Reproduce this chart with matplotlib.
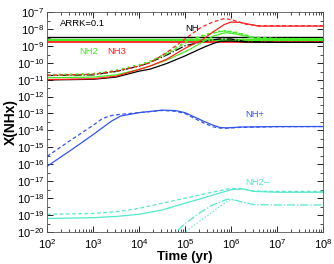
import numpy as np
import matplotlib
matplotlib.use("Agg")
import matplotlib.pyplot as plt
from matplotlib.ticker import LogLocator, NullFormatter

plt.rcParams['font.family'] = ['Liberation Sans', 'DejaVu Sans']

# log10(time in yr) and log10(abundance)
# NH (black)
nh_t = [2, 3, 3.5, 4, 4.24, 4.6, 5.0, 5.4, 5.6, 5.76, 6.0, 6.3, 7, 8]
nh_solid = [-11.02, -10.98, -10.85, -10.5, -10.38, -10.05, -9.6, -9.1, -8.88, -8.74, -8.72, -8.78, -8.8, -8.8]
nh_dash = [-10.76, -10.72, -10.52, -10.2, -9.98, -9.55, -9.0, -8.75, -8.65, -8.6, -8.6, -8.75, -8.8, -8.8]

# NH2 (green)
nh2_t = [2, 3, 3.5, 4, 4.24, 4.6, 5.0, 5.1, 5.37, 5.6, 5.83, 5.9, 6.1, 6.5, 7, 8]
nh2_solid = [-10.89, -10.85, -10.72, -10.4, -10.2, -9.85, -9.35, -9.22, -8.8, -8.45, -8.26, -8.23, -8.3, -8.55, -8.6, -8.6]
nh2_dash = [-10.75, -10.7, -10.5, -10.18, -9.96, -9.5, -8.85, -8.7, -8.45, -8.25, -8.14, -8.14, -8.22, -8.5, -8.58, -8.6]
nh2_dot = [-10.72, -10.65, -10.45, -10.13, -9.92, -9.45, -8.8, -8.65, -8.4, -8.22, -8.12, -8.13, -8.2, -8.5, -8.58, -8.6]

# NH3 (red)
nh3_t = [2, 3, 3.5, 4, 4.24, 4.6, 5.0, 5.3, 5.4, 5.6, 5.85, 6.0, 6.2, 6.3, 6.6, 7, 8]
nh3_solid = [-11.0, -10.95, -10.8, -10.4, -10.2, -9.8, -9.15, -8.75, -8.6, -8.2, -7.75, -7.6, -7.62, -7.68, -7.84, -7.84, -7.84]
nh3_dash = [-10.74, -10.68, -10.5, -10.2, -10.0, -9.4, -8.6, -8.0, -7.85, -7.6, -7.4, -7.45, -7.62, -7.72, -7.82, -7.82, -7.82]

# NH+ (blue)
nhp_t = [2, 2.5, 3, 3.2, 3.4, 3.6, 4, 4.5, 4.8, 5.0, 5.2, 5.4, 5.6, 5.75, 5.9, 6.2, 7, 8]
nhp_solid = [-16.12, -15.2, -14.25, -13.85, -13.45, -13.15, -12.95, -12.8, -12.83, -12.95, -13.2, -13.45, -13.68, -13.82, -13.85, -13.8, -13.77, -13.77]
nhp_dash = [-15.53, -14.6, -13.7, -13.3, -13.12, -13.05, -12.95, -12.82, -12.87, -13.0, -13.28, -13.55, -13.78, -13.86, -13.87, -13.82, -13.78, -13.77]

# NH2- (turquoise)
nh2m_t = [2, 3, 3.5, 4, 4.5, 5, 5.5, 6, 6.25, 6.5, 7, 8]
nh2m_solid = [-19.2, -19.15, -19.08, -18.95, -18.7, -18.3, -17.9, -17.5, -17.45, -17.6, -17.65, -17.65]
nh2m_dash = [-18.95, -18.9, -18.8, -18.6, -18.3, -18.0, -17.7, -17.42, -17.45, -17.58, -17.6, -17.6]
nh2m_dd_t = [4.6, 4.8, 5.0, 5.3, 5.6, 5.9, 6.0, 6.2, 6.5, 7, 8]
nh2m_dashdot = [-20.3, -20.0, -19.5, -18.9, -18.4, -18.08, -18.05, -18.2, -18.38, -18.4, -18.4]
nh2m_dot_t = [4.85, 5.1, 5.4, 5.7, 5.95, 6.1]
nh2m_dot = [-20.3, -19.8, -19.2, -18.6, -18.12, -18.1]

# constant reference levels
ref_black = -8.48
ref_green = [-8.6, -8.68]
ref_red = -8.79

c_black = 'black'
c_green = '#44ee22'
c_red = '#ff2020'
c_blue = '#3355ee'
c_cyan = '#55e8cc'


def p(t, v):
    return 10 ** np.array(t, dtype=float), 10 ** np.array(v, dtype=float)


fig = plt.figure(figsize=(3.34, 2.64), dpi=100)
ax = fig.add_axes([0.141, 0.121, 0.826, 0.834])
lw = 0.9

ax.axhline(10 ** ref_black, color=c_black, lw=1.0)
for g in ref_green:
    ax.axhline(10 ** g, color=c_green, lw=0.9)
ax.axhline(10 ** ref_red, color=c_red, lw=1.3)

ax.plot(*p(nh_t, nh_solid), color=c_black, lw=lw)
ax.plot(*p(nh_t, nh_dash), color=c_black, lw=lw, ls='-.')
ax.plot(*p(nh2_t, nh2_solid), color=c_green, lw=lw)
ax.plot(*p(nh2_t, nh2_dash), color=c_green, lw=lw, ls=(0, (3, 2)))
ax.plot(*p(nh2_t, nh2_dot), color=c_green, lw=1.3, ls=(0, (1.2, 2)))
ax.plot(*p(nh3_t, nh3_solid), color=c_red, lw=lw)
ax.plot(*p(nh3_t, nh3_dash), color=c_red, lw=lw, ls=(0, (3, 2)))
ax.plot(*p(nhp_t, nhp_solid), color=c_blue, lw=lw)
ax.plot(*p(nhp_t, nhp_dash), color=c_blue, lw=lw, ls=(0, (3, 2)))
ax.plot(*p(nh2m_t, nh2m_solid), color=c_cyan, lw=lw)
ax.plot(*p(nh2m_t, nh2m_dash), color=c_cyan, lw=lw, ls=(0, (3, 2)))
ax.plot(*p(nh2m_dd_t, nh2m_dashdot), color=c_cyan, lw=lw, ls='-.')
ax.plot(*p(nh2m_dot_t, nh2m_dot), color=c_cyan, lw=lw, ls=':')

ax.set_xscale('log')
ax.set_yscale('log')
ax.set_xlim(1e2, 1e8)
ax.set_ylim(1e-20, 1e-7)
ax.yaxis.set_major_locator(LogLocator(base=10, numticks=20))
ax.yaxis.set_minor_locator(LogLocator(base=10, subs=(3.0,), numticks=20))
ax.yaxis.set_minor_formatter(NullFormatter())
ax.xaxis.set_minor_locator(LogLocator(base=10, subs=np.arange(2, 10), numticks=20))
ax.xaxis.set_minor_formatter(NullFormatter())
ax.tick_params(which='both', direction='in', top=True, right=True, labelsize=8)
ax.tick_params(axis='x', pad=3.5)
ax.tick_params(axis='y', pad=2)
ax.tick_params(which='major', length=4, width=0.6)
ax.tick_params(which='minor', length=2, width=0.5)
for s in ax.spines.values():
    s.set_linewidth(0.6)
    s.set_color('#555555')

ax.set_xlabel('Time (yr)', fontsize=9.5, fontweight='bold', va='center')
ax.set_ylabel('X(NHx)', fontsize=10, fontweight='bold', va='center')
ax.xaxis.set_label_coords(0.5, -0.115)
ax.yaxis.set_label_coords(-0.132, 0.5)

fs = 6.8
ax.text(0.047, 0.945, 'ARRK=0.1', transform=ax.transAxes, fontsize=fs, color='black', va='center')
ax.text(0.116, 0.818, 'NH2', transform=ax.transAxes, fontsize=fs, color=c_green, va='center')
ax.text(0.217, 0.818, 'NH3', transform=ax.transAxes, fontsize=fs, color=c_red, va='center')
ax.text(0.5, 0.925, 'NH', transform=ax.transAxes, fontsize=fs, color='black', va='center')
ax.text(0.717, 0.532, 'NH+', transform=ax.transAxes, fontsize=fs, color=c_blue, va='center')
ax.text(0.717, 0.223, 'NH2\u2212', transform=ax.transAxes, fontsize=fs, color=c_cyan, va='center')

fig.savefig('out.png', dpi=100)
